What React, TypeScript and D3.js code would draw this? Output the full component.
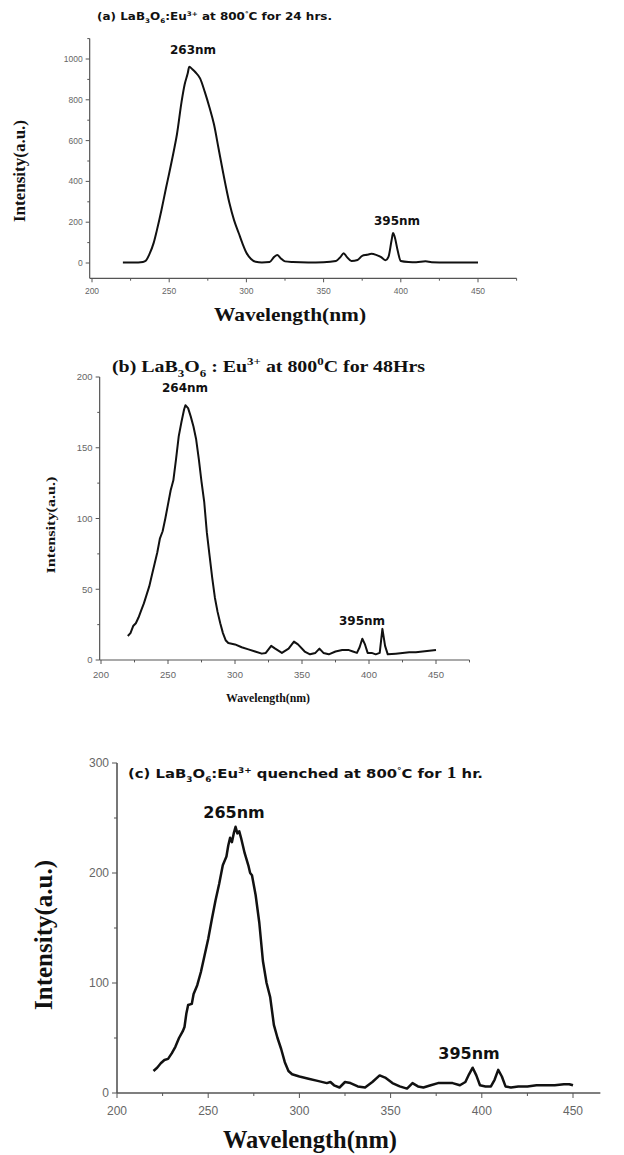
import React from "react";
import * as d3 from "d3";

// ---------------- DATA ----------------
const X_TICKS = [200, 250, 300, 350, 400, 450];
const X_MINOR = [225, 275, 325, 375, 425, 475];

// (a) 800°C 24 hrs
const WL_A = [220, 225, 230, 233, 235, 237, 240, 242, 245, 248, 250, 253, 255, 258, 260, 262, 263, 265, 267, 270, 273, 276, 279, 282, 285, 289, 292, 295, 298, 300, 303, 306, 310, 315, 318, 320, 322, 325, 330, 340, 350, 358, 361, 363, 365, 368, 372, 375, 378, 381, 384, 387, 390, 392, 394, 395, 396, 398, 400, 405, 410, 416, 420, 430, 440, 450];
const INT_A = [3, 3, 3, 5, 12, 40, 100, 160, 260, 370, 440, 550, 630, 790, 875, 930, 962, 950, 935, 905, 840, 765, 680, 560, 440, 294, 210, 147, 85, 50, 20, 6, 3, 5, 30, 39, 25, 8, 5, 3, 4, 10, 30, 48, 30, 10, 15, 35, 40, 45, 40, 30, 14, 30, 110, 147, 130, 60, 10, 5, 4, 8, 4, 3, 3, 3];
const Y_TICKS_A = [0, 200, 400, 600, 800, 1000];
const Y_MINOR_A = [100, 300, 500, 700, 900, 1100];

// (b) 800°C 48 Hrs
const WL_B = [220, 222, 224, 226, 228, 230, 232, 234, 236, 238, 240, 242, 244, 246, 248, 250, 252, 254, 256, 258, 260, 262, 263, 265, 267, 269, 271, 273, 275, 277, 279, 281, 283, 285, 287, 289, 291, 293, 295, 300, 305, 310, 315, 320, 323, 327, 330, 335, 340, 344, 347, 352, 356, 360, 363, 366, 370, 375, 380, 385, 388, 391, 393, 395, 397, 399, 402, 405, 408, 410, 412, 414, 420, 425, 430, 435, 440, 445, 450];
const INT_B = [17, 19, 24, 26, 30, 35, 40, 46, 52, 60, 68, 76, 86, 91, 100, 110, 120, 127, 142, 158, 168, 177, 180, 178, 172, 165, 156, 142, 126, 112, 90, 74, 58, 44, 34, 26, 19, 14, 12, 11, 9, 7.5, 6, 4.5, 5, 10, 8, 5, 8, 13, 11, 6, 4, 5, 8, 5, 4, 6, 7, 7, 6, 5, 9, 15, 11, 5, 5, 4, 5, 22, 10, 4, 4.5, 5, 5.5, 5.5, 6, 6.5, 7];
const Y_TICKS_B = [0, 50, 100, 150, 200];
const Y_MINOR_B = [25, 75, 125, 175];

// (c) quenched 800°C 1 hr
const WL_C = [220, 222, 224, 226, 228, 230, 232, 234, 236, 237, 238, 239, 241, 242, 244, 246, 248, 250, 252, 254, 256, 258, 260, 261, 262, 263, 264, 265, 266, 267, 268, 269, 270, 272, 273, 274, 276, 278, 280, 282, 284, 286, 288, 290, 292, 294, 296, 300, 305, 310, 315, 317, 319, 322, 325, 328, 332, 336, 340, 344, 347, 351, 355, 359, 362, 365, 368, 372, 376, 380, 384, 388, 391, 393, 395, 397, 399, 402, 405, 407, 409, 411, 413, 416, 420, 425, 430, 435, 440, 445, 448, 450];
const INT_C = [20, 23, 27, 30, 31, 36, 42, 50, 56, 60, 72, 80, 81, 90, 98, 110, 125, 140, 158, 175, 190, 207, 215, 225, 232, 228, 236, 242, 236, 238, 232, 225, 218, 207, 200, 198, 180, 155, 120, 100, 87, 62, 50, 40, 28, 20, 17, 15, 13, 11, 9, 10, 7, 5, 10, 9, 6, 5, 10, 16, 14, 9, 6, 4, 9, 6, 5, 7, 9, 9, 9, 7, 10, 17, 23, 16, 7, 6, 6, 12, 21, 15, 6, 5, 6, 6, 7, 7, 7, 8, 8, 7];
const Y_TICKS_C = [0, 100, 200, 300];
const Y_MINOR_C = [50, 150, 250];

// ---------------- helpers ----------------
type Seg = { t: string; sub?: boolean; sup?: boolean; fam?: string; size?: number };

function Rich({ x, y, size, family, segs, anchor = "start", weight = "bold", len, subScale = 0.6 }: any) {
  let cur = 0;
  return (
    <text
      x={x}
      y={y}
      fontFamily={family}
      fontSize={size}
      fontWeight={weight}
      textAnchor={anchor}
      fill="#111"
      textLength={len}
      lengthAdjust={len ? "spacingAndGlyphs" : undefined}
    >
      {segs.map((s: Seg, i: number) => {
        const target = s.sub ? size * 0.3 : s.sup ? -size * 0.42 : 0;
        const dy = target - cur;
        cur = target;
        const fs = s.size ? s.size : s.sub || s.sup ? size * subScale : size;
        return (
          <tspan key={i} dy={dy} fontSize={fs} fontFamily={s.fam || family}>
            {s.t}
          </tspan>
        );
      })}
    </text>
  );
}

const SANS = "'DejaVu Sans', sans-serif";
const ARIAL = "'Liberation Sans', Arial, sans-serif";
const SERIF = "'Liberation Serif', 'Times New Roman', serif";

function Panel(p: any) {
  const x = d3.scaleLinear().domain([200, 450]).range(p.xr);
  const y = d3.scaleLinear().domain([0, p.yTop]).range(p.yr);
  const axisY = y(p.yAxisLo);
  const axisX = x(p.xAxisLo);
  const pts = p.wl.map((w: number, i: number) => [w, p.iv[i]]);
  const line = d3
    .line<number[]>()
    .x((d) => x(d[0]))
    .y((d) => y(d[1]))
    .curve(p.smooth ? d3.curveMonotoneX : d3.curveLinear);
  const ax = "#555";
  return (
    <g>
      <line x1={axisX} x2={x(p.xAxisHi)} y1={axisY} y2={axisY} stroke={ax} strokeWidth={p.axW} />
      <line x1={axisX} x2={axisX} y1={axisY} y2={y(p.yAxisHi)} stroke={ax} strokeWidth={p.axW} />
      {p.yTicks.map((t: number) => (
        <g key={"yt" + t}>
          <line x1={axisX - p.tick} x2={axisX} y1={y(t)} y2={y(t)} stroke={ax} strokeWidth={1} />
          <text x={axisX - p.tick - 3} y={y(t)} dy="0.35em" textAnchor="end" fontFamily={ARIAL} fontSize={p.tickFs} fill="#666">
            {t}
          </text>
        </g>
      ))}
      {p.yMinor.filter((t: number) => t <= p.yAxisHi).map((t: number) => (
        <line key={"ym" + t} x1={axisX - p.tick * 0.6} x2={axisX} y1={y(t)} y2={y(t)} stroke={ax} strokeWidth={1} />
      ))}
      {X_TICKS.map((t) => (
        <g key={"xt" + t}>
          <line x1={x(t)} x2={x(t)} y1={axisY} y2={axisY + p.tick} stroke={ax} strokeWidth={1} />
          <text x={x(t)} y={axisY + p.xLabDy} textAnchor="middle" fontFamily={ARIAL} fontSize={p.tickFs} fill="#666">
            {t}
          </text>
        </g>
      ))}
      {X_MINOR.filter((t) => t <= p.xAxisHi).map((t) => (
        <line key={"xm" + t} x1={x(t)} x2={x(t)} y1={axisY} y2={axisY + p.tick * 0.6} stroke={ax} strokeWidth={1} />
      ))}
      <path d={line(pts) || ""} fill="none" stroke="#111" strokeWidth={p.lineW} strokeLinejoin="round" />
      <text
        transform={`translate(${p.yLab[0]},${p.yLab[1]}) rotate(-90)`}
        textAnchor="middle"
        fontFamily={SERIF}
        fontWeight="bold"
        fontSize={p.yLabFs}
        textLength={p.yLabLen}
        lengthAdjust="spacingAndGlyphs"
        fill="#111"
      >
        Intensity(a.u.)
      </text>
      <text x={p.xLab[0]} y={p.xLab[1]} textAnchor="middle" fontFamily={SERIF} fontWeight="bold" fontSize={p.xLabFs} textLength={p.xLabLen} lengthAdjust="spacingAndGlyphs" fill="#111">
        Wavelength(nm)
      </text>
      {p.peaks.map((pk: any, i: number) => (
        <text key={i} x={pk[0]} y={pk[1]} textAnchor="middle" fontFamily={SANS} fontWeight="bold" fontSize={p.peakFs} fill="#111">
          {pk[2]}
        </text>
      ))}
      {p.title}
    </g>
  );
}

export default function App() {
  return (
    <svg width={624} height={1155} style={{ display: "block", position: "absolute", left: 0, top: 0, background: "#fff" }}>
      <rect width={624} height={1155} fill="#fff" />
      <Panel
        wl={WL_A}
        iv={INT_A}
        smooth
        xr={[92, 478]}
        yr={[263, 59]}
        yTop={1000}
        yAxisLo={-75}
        yAxisHi={1100}
        xAxisLo={198.5}
        xAxisHi={475}
        yTicks={Y_TICKS_A}
        yMinor={Y_MINOR_A}
        tick={4}
        tickFs={8.5}
        xLabDy={16}
        axW={1.2}
        lineW={2}
        yLab={[25, 171]}
        yLabFs={17}
        yLabLen={102}
        xLab={[290, 321]}
        xLabFs={19}
        xLabLen={152}
        peakFs={12}
        peaks={[[193, 54, "263nm"], [397, 225, "395nm"]]}
        title={
          <Rich
            x={97}
            y={20}
            size={10.5}
            family={SANS}
            len={235}
            segs={[
              { t: "(a) LaB" },
              { t: "3", sub: true },
              { t: "O" },
              { t: "6", sub: true },
              { t: ":Eu" },
              { t: "3+", sup: true },
              { t: " at 800" },
              { t: "°", sup: true },
              { t: "C for 24 hrs." },
            ]}
          />
        }
      />
      <Panel
        wl={WL_B}
        iv={INT_B}
        xr={[101, 436]}
        yr={[660, 377]}
        yTop={200}
        yAxisLo={0}
        yAxisHi={200}
        xAxisLo={199}
        xAxisHi={475}
        yTicks={Y_TICKS_B}
        yMinor={Y_MINOR_B}
        tick={4}
        tickFs={9.5}
        xLabDy={18}
        axW={1.2}
        lineW={2}
        yLab={[55, 525]}
        yLabFs={12}
        yLabLen={97}
        xLab={[268, 702]}
        xLabFs={12}
        xLabLen={84}
        peakFs={12}
        peaks={[[185, 392, "264nm"], [362, 625, "395nm"]]}
        title={
          <Rich
            x={112}
            y={372}
            size={16}
            family={SERIF}
            len={313}
            subScale={0.65}
            segs={[
              { t: "(b) LaB" },
              { t: "3", sub: true },
              { t: "O" },
              { t: "6", sub: true },
              { t: " : Eu" },
              { t: "3+", sup: true },
              { t: " at 800" },
              { t: "0", sup: true },
              { t: "C for 48Hrs" },
            ]}
          />
        }
      />
      <Panel
        wl={WL_C}
        iv={INT_C}
        xr={[117, 573]}
        yr={[1093, 763]}
        yTop={300}
        yAxisLo={0}
        yAxisHi={300}
        xAxisLo={200}
        xAxisHi={465}
        yTicks={Y_TICKS_C}
        yMinor={Y_MINOR_C}
        tick={5}
        tickFs={12}
        xLabDy={22}
        axW={1.6}
        lineW={2.5}
        yLab={[52, 935]}
        yLabFs={25}
        yLabLen={150}
        xLab={[310, 1148]}
        xLabFs={25}
        xLabLen={174}
        peakFs={16}
        peaks={[[234, 818, "265nm"], [469, 1059, "395nm"]]}
        title={
          <Rich
            x={128}
            y={778}
            size={13}
            family={SANS}
            len={355}
            segs={[
              { t: "(c) LaB" },
              { t: "3", sub: true },
              { t: "O" },
              { t: "6", sub: true },
              { t: ":Eu" },
              { t: "3+", sup: true },
              { t: " quenched at 800" },
              { t: "°", sup: true },
              { t: "C for " },
              { t: "1", fam: SERIF, size: 17 },
              { t: " hr." },
            ]}
          />
        }
      />
    </svg>
  );
}
